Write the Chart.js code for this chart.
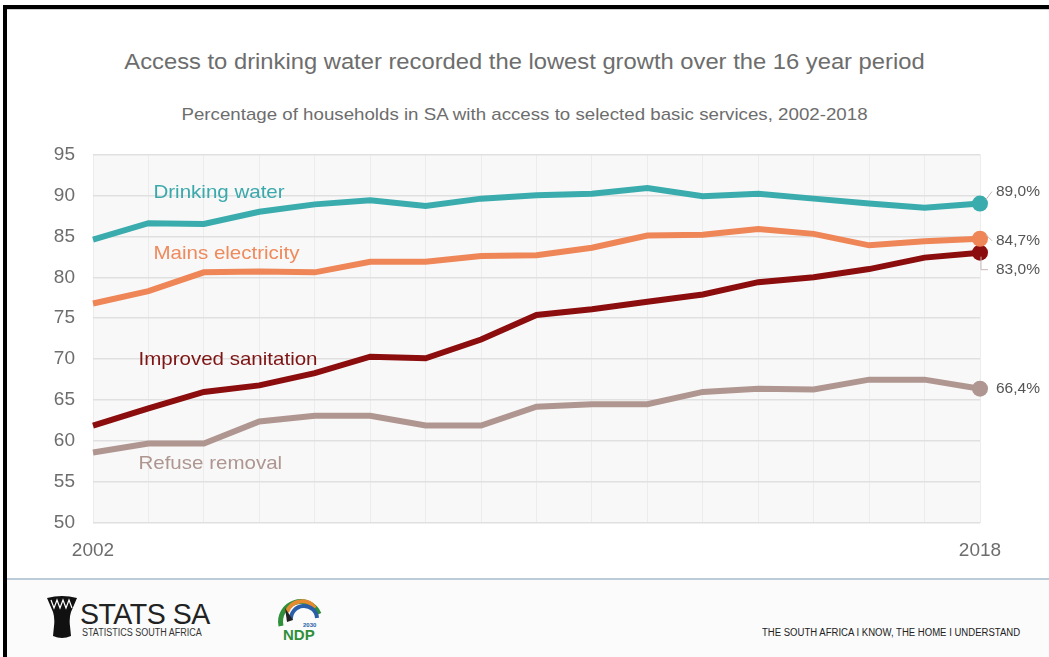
<!DOCTYPE html>
<html>
<head>
<meta charset="utf-8">
<script src="https://cdn.jsdelivr.net/npm/chart.js@4.4.0/dist/chart.umd.min.js"></script>
<style>
  html, body { margin: 0; padding: 0; background: #fff; }
  body { width: 1049px; height: 657px; position: relative; overflow: hidden; font-family: "Liberation Sans", Arial, sans-serif; }
  .frame { position: absolute; left: 3px; top: 5px; right: -20px; bottom: -20px; border-top: 4px solid #000; border-left: 4px solid #000; }
  .frame-shadow { position: absolute; left: 7px; top: 9px; right: 0; height: 1px; background: #cfcfcf; }
  .title { position: absolute; top: 49px; left: 0; width: 100%; text-align: center; font-size: 22px; color: #6d6d6d; transform: scaleX(1.08); }
  .subtitle { position: absolute; top: 105px; left: 0; width: 100%; text-align: center; font-size: 17px; color: #6d6d6d; transform: scaleX(1.1); }
  .chart-box { position: absolute; left: 0; top: 125px; width: 1049px; height: 445px; }
  .footer { position: absolute; left: 7px; top: 578px; right: 0; bottom: 0; background: #fbfbfb; border-top: 2px solid #bccbd8; }
  .stats-name { position: absolute; left: 80px; top: 597px; font-size: 30px; color: #222; letter-spacing: -0.5px; transform: scaleX(0.95); transform-origin: left; }
  .stats-sub { position: absolute; left: 82px; top: 627px; font-size: 10px; color: #333; transform: scaleX(0.9); transform-origin: left; }
  .tagline { position: absolute; left: 762px; top: 627px; font-size: 10px; color: #222; transform: scaleX(0.955); transform-origin: left; }
  .logo { position: absolute; }
</style>
</head>
<body>
<div class="frame"></div>
<div class="frame-shadow"></div>
<div class="title">Access to drinking water recorded the lowest growth over the 16 year period</div>
<div class="subtitle">Percentage of households in SA with access to selected basic services, 2002-2018</div>
<div class="chart-box"><canvas id="servicesChart"></canvas></div>
<div class="footer"></div>
<svg class="logo" style="left:46px; top:596px" width="32" height="44" viewBox="0 0 32 44">
  <path d="M1 2 Q16 -2 31 2 L25 16 Q23 22 24 30 L25 40 Q16 44 7 40 L8 30 Q9 22 7 16 Z" fill="#111"/>
  <path d="M5 4 L8 12 L11 4 L14 12 L17 4 L20 12 L23 4 L26 12" stroke="#fff" stroke-width="1.2" fill="none"/>
</svg>
<div class="stats-name">STATS SA</div>
<div class="stats-sub">STATISTICS SOUTH AFRICA</div>
<svg class="logo" style="left:275px; top:596px" width="50" height="46" viewBox="0 0 50 46">
  <path d="M6 30 A20 20 0 0 1 44 18" stroke="#2f8f3a" stroke-width="5" fill="none"/>
  <path d="M12 16 A16 16 0 0 1 40 12" stroke="#e58a2e" stroke-width="4" fill="none"/>
  <path d="M16 24 A12 12 0 0 1 42 22" stroke="#2a5fa8" stroke-width="4" fill="none"/>
  <path d="M10 12 L18 24 L12 26 Z" fill="#222"/>
  <text x="28" y="31" font-size="6" font-family="Liberation Sans" font-weight="bold" fill="#2a5fa8">2030</text>
  <text x="8" y="44" font-size="15" font-family="Liberation Sans" font-weight="bold" fill="#2f8f3a">NDP</text>
</svg>
<div class="tagline">THE SOUTH AFRICA I KNOW, THE HOME I UNDERSTAND</div>

<script>
const years = ['2002', '2003', '2004', '2005', '2006', '2007', '2008', '2009', '2010',
  '2011', '2012', '2013', '2014', '2015', '2016', '2017', '2018'];
const drinkingWater = [84.6, 86.6, 86.5, 88.0, 88.9, 89.4, 88.7, 89.6, 90.0, 90.2, 90.9, 89.9, 90.2, 89.6, 89.0, 88.5, 89.0];
const mainsElectricity = [76.8, 78.3, 80.6, 80.7, 80.6, 81.9, 81.9, 82.6, 82.7, 83.6, 85.1, 85.2, 85.9, 85.3, 83.9, 84.4, 84.7];
const improvedSanitation = [61.9, 64.0, 66.0, 66.8, 68.3, 70.3, 70.1, 72.4, 75.4, 76.1, 77.0, 77.9, 79.4, 80.0, 81.0, 82.4, 83.0];
const refuseRemoval = [58.6, 59.7, 59.7, 62.4, 63.1, 63.1, 61.9, 61.9, 64.2, 64.5, 64.5, 66.0, 66.4, 66.3, 67.5, 67.5, 66.4];
const yTicks = [50, 55, 60, 65, 70, 75, 80, 85, 90, 95];

const fontFamily = '"Liberation Sans", Arial, sans-serif';
Chart.defaults.font.family = fontFamily;

const last = years.length - 1;

const makeSeries = (label, data, color) => ({
  label,
  data,
  borderColor: color,
  backgroundColor: color,
  borderWidth: 6,
  tension: 0,
  pointRadius: ctx => ctx.dataIndex === last ? 8 : 0,
  pointHoverRadius: ctx => ctx.dataIndex === last ? 8 : 0,
  pointBorderWidth: 0
});

// light grey box behind the plot
const plotBackground = {
  id: 'plotBackground',
  beforeDraw(chart) {
    const { ctx, chartArea: a } = chart;
    ctx.save();
    ctx.fillStyle = '#f8f8f8';
    ctx.fillRect(a.left, a.top, a.width, a.height);
    ctx.restore();
  }
};

// series names written next to their lines (value on y scale, pixel nudge on x)
const seriesLabels = {
  id: 'seriesLabels',
  afterDatasetsDraw(chart) {
    const { ctx, scales: { x, y } } = chart;
    const spots = [
      { value: 90.35, dx: 5, color: '#3aa9ab' },
      { value: 82.9, dx: 5, color: '#ee8a5c' },
      { value: 69.9, dx: -10, color: '#7e1414' },
      { value: 57.2, dx: -10, color: '#ae9690' }
    ];
    ctx.save();
    ctx.font = '19px ' + fontFamily;
    ctx.textBaseline = 'middle';
    chart.data.datasets.forEach((ds, i) => {
      const s = spots[i];
      const px = x.getPixelForValue(1) + s.dx;
      const py = y.getPixelForValue(s.value);
      ctx.save();
      ctx.translate(px, py);
      ctx.scale(1.08, 1);
      ctx.fillStyle = s.color;
      ctx.fillText(ds.label, 0, 0);
      ctx.restore();
    });
    ctx.restore();
  }
};

// last-value labels at the right end
const endLabels = {
  id: 'endLabels',
  afterDatasetsDraw(chart) {
    const { ctx } = chart;
    const nudges = [-12, 2, 17, 0];
    ctx.save();
    ctx.font = '15.5px ' + fontFamily;
    ctx.textBaseline = 'middle';
    chart.data.datasets.forEach((ds, i) => {
      const pt = chart.getDatasetMeta(i).data[last];
      const txt = ds.data[last].toFixed(1).replace('.', ',') + '%';
      const ty = pt.y + nudges[i];
      if (nudges[i] !== 0) {
        ctx.strokeStyle = '#c9b8b8';
        ctx.lineWidth = 1;
        ctx.beginPath();
        if (nudges[i] > 8) {
          ctx.moveTo(pt.x + 1, pt.y + 4);
          ctx.lineTo(pt.x + 1, ty);
          ctx.lineTo(pt.x + 8, ty);
        } else {
          ctx.moveTo(pt.x + 6, pt.y - 4);
          ctx.lineTo(pt.x + 12, ty);
        }
        ctx.stroke();
      }
      ctx.fillStyle = '#555';
      ctx.fillText(txt, pt.x + 16, ty);
    });
    ctx.restore();
  }
};

new Chart(document.getElementById('servicesChart'), {
  type: 'line',
  data: {
    labels: years,
    datasets: [
      makeSeries('Drinking water', drinkingWater, '#3aacad'),
      makeSeries('Mains electricity', mainsElectricity, '#ef8657'),
      makeSeries('Improved sanitation', improvedSanitation, '#8c0d0d'),
      makeSeries('Refuse removal', refuseRemoval, '#b09690')
    ]
  },
  options: {
    responsive: true,
    maintainAspectRatio: false,
    animation: false,
    layout: { padding: { left: 0, right: 69, top: 0, bottom: 2 } },
    plugins: { legend: { display: false }, tooltip: { enabled: false } },
    scales: {
      x: {
        afterFit: s => { s.height = 45; },
        grid: { color: '#ececec', lineWidth: 1, drawTicks: false },
        border: { display: false },
        ticks: {
          autoSkip: false,
          maxRotation: 0,
          padding: 16,
          color: '#6d6d6d',
          font: { size: 19 },
          callback: (v, i) => (i === 0 || i === last) ? years[i] : ''
        }
      },
      y: {
        min: 50,
        max: 95,
        afterFit: s => { s.width = 93; },
        afterBuildTicks: s => { s.ticks = yTicks.map(v => ({ value: v })); },
        grid: { color: '#e0e0e0', lineWidth: 1.5, drawTicks: false },
        border: { display: false },
        ticks: { padding: 18, color: '#6d6d6d', font: { size: 19 } }
      }
    }
  },
  plugins: [plotBackground, seriesLabels, endLabels]
});
</script>
</body>
</html>
